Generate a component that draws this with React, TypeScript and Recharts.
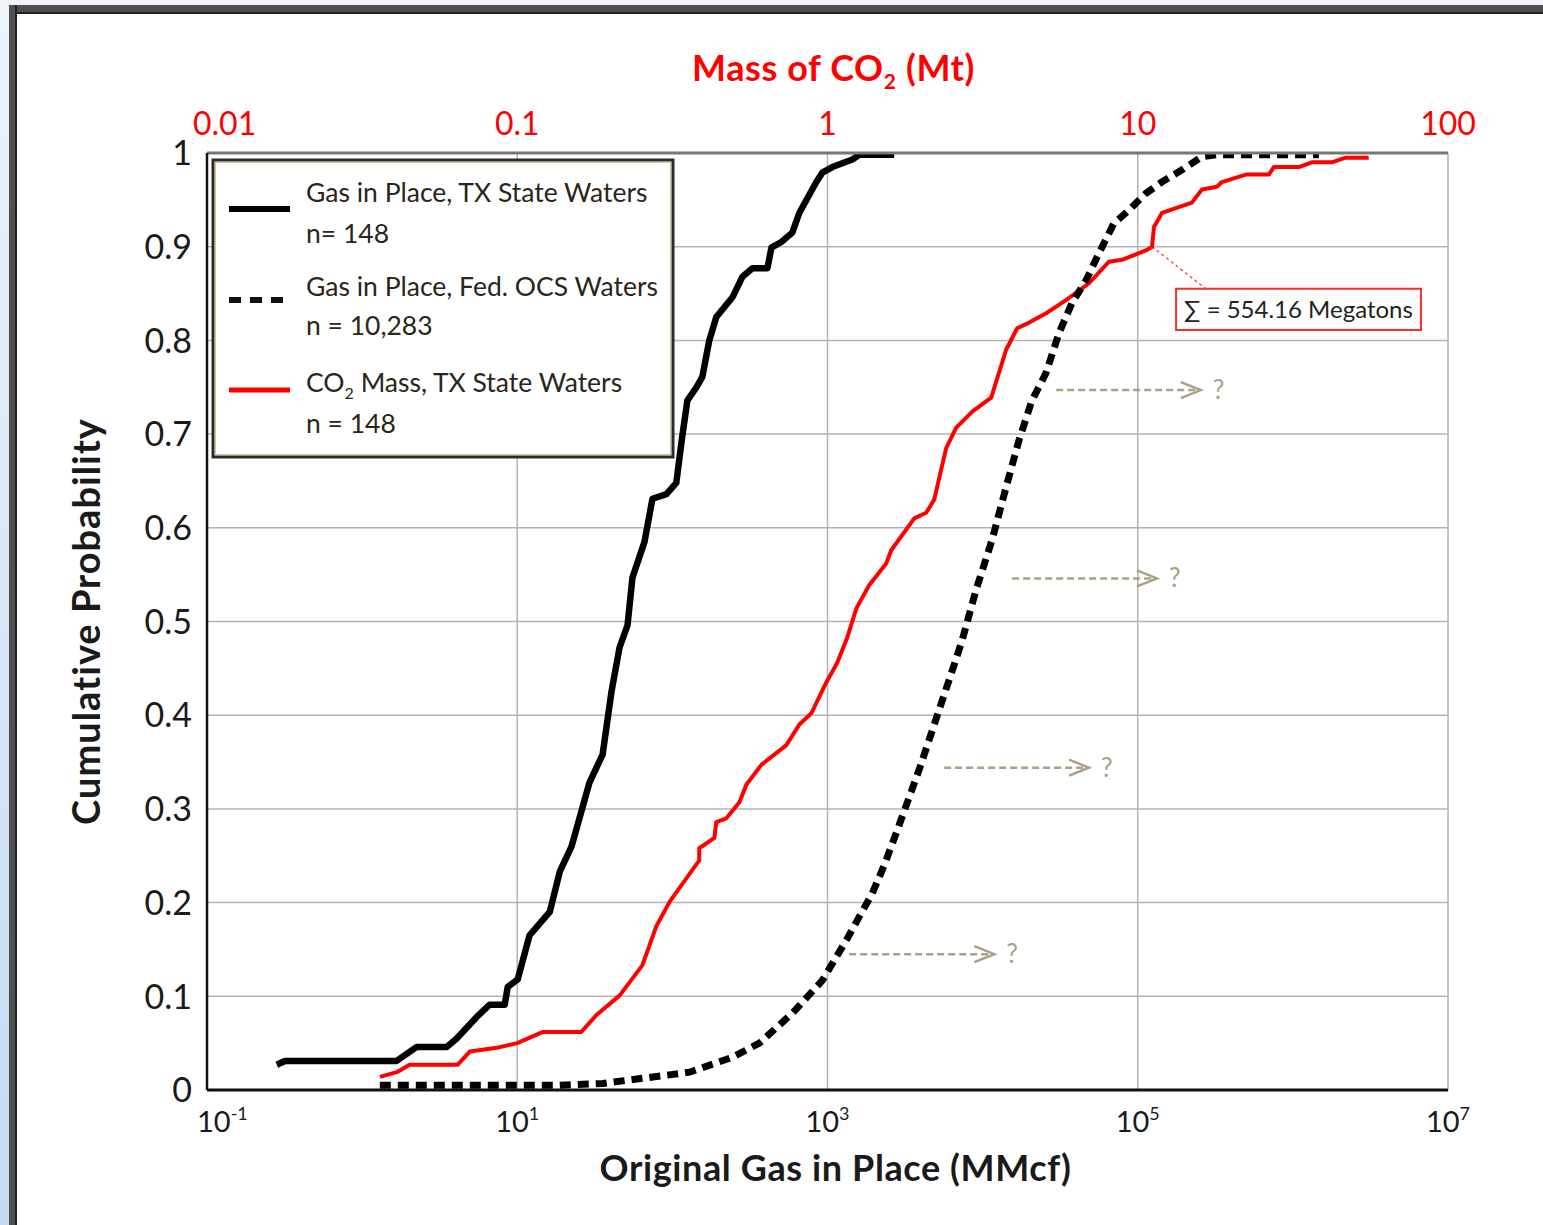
import React from 'react'
import {
  ComposedChart,
  Line,
  XAxis,
  YAxis,
  CartesianGrid,
  Legend,
  ReferenceLine,
  ReferenceArea,
} from 'recharts'

const FONT = 'Lato, "Open Sans", sans-serif'
const ANNO = '#aaa284'

// Gas in place, TX state waters (MMcf) vs cumulative probability
const txGas = [0.282, 0.318, 1.67, 2.25, 3.51, 4.07, 5.48, 6.64, 8.3, 8.68, 10.07, 12.0, 16.2, 18.8, 22.4, 29.2, 35.5, 40.5, 45.6, 51.4, 55.3, 66.1, 74.4, 91.6, 106, 115, 125, 143, 156, 173, 192, 244, 283, 328, 410, 435, 504, 593, 658, 847, 926, 1075, 1445, 1603, 2692]
const txProb = [0.027, 0.031, 0.031, 0.046, 0.046, 0.055, 0.078, 0.091, 0.091, 0.11, 0.118, 0.165, 0.19, 0.233, 0.26, 0.328, 0.358, 0.425, 0.472, 0.496, 0.547, 0.585, 0.631, 0.636, 0.648, 0.694, 0.736, 0.75, 0.761, 0.8, 0.825, 0.846, 0.868, 0.877, 0.877, 0.899, 0.905, 0.915, 0.936, 0.969, 0.979, 0.985, 0.993, 0.998, 0.998]

// Gas in place, Fed. OCS waters (MMcf)
const ocsGas = [1.3, 18.8, 35.5, 68.1, 129, 244, 364, 594, 927, 1324, 1604, 1945, 2323, 2900, 3900, 5250, 6560, 7380, 9080, 11500, 14200, 17200, 20800, 25600, 31100, 37700, 46400, 56200, 70200, 87700, 113000, 143000, 193000, 259000, 319000, 1470000]
const ocsProb = [0.005, 0.005, 0.007, 0.013, 0.019, 0.035, 0.05, 0.082, 0.117, 0.16, 0.185, 0.21, 0.24, 0.283, 0.342, 0.406, 0.454, 0.48, 0.534, 0.587, 0.644, 0.694, 0.736, 0.765, 0.808, 0.84, 0.864, 0.893, 0.925, 0.939, 0.957, 0.969, 0.982, 0.996, 0.998, 0.998]

// CO2 mass, TX state waters (Mt) - plotted on the top axis
const co2Mass = [0.0361, 0.0409, 0.045, 0.0643, 0.0703, 0.0859, 0.1, 0.121, 0.161, 0.18, 0.214, 0.253, 0.281, 0.31, 0.386, 0.386, 0.432, 0.438, 0.472, 0.52, 0.548, 0.612, 0.737, 0.811, 0.887, 0.991, 1.075, 1.158, 1.239, 1.364, 1.546, 1.605, 1.904, 2.08, 2.207, 2.413, 2.6, 2.927, 3.37, 3.765, 4.087, 4.468, 5.066, 5.873, 6.966, 8.078, 8.895, 10.63, 11.12, 11.28, 11.97, 14.95, 16.1, 17.99, 18.67, 22.3, 26.46, 27.45, 33.04, 36.39, 42.2, 46.8, 55.5]
const co2Prob = [0.014, 0.019, 0.027, 0.027, 0.041, 0.045, 0.05, 0.062, 0.062, 0.08, 0.101, 0.133, 0.175, 0.201, 0.245, 0.258, 0.269, 0.286, 0.29, 0.307, 0.326, 0.347, 0.368, 0.39, 0.402, 0.435, 0.456, 0.483, 0.514, 0.539, 0.562, 0.576, 0.61, 0.616, 0.63, 0.685, 0.707, 0.724, 0.739, 0.79, 0.813, 0.819, 0.829, 0.843, 0.861, 0.884, 0.886, 0.896, 0.9, 0.921, 0.936, 0.947, 0.961, 0.964, 0.969, 0.977, 0.977, 0.985, 0.985, 0.99, 0.99, 0.995, 0.995]

// axes
const gasTicks = [0.1, 10, 1000, 100000, 10000000]
const gasTickExp = ['-1', '1', '3', '5', '7']
const massTicks = [0.01, 0.1, 1, 10, 100]
const massTickLabels = ['0.01', '0.1', '1', '10', '100']
const probTicks = [0, 0.1, 0.2, 0.3, 0.4, 0.5, 0.6, 0.7, 0.8, 0.9, 1]
const probTickLabels = ['0', '0.1', '0.2', '0.3', '0.4', '0.5', '0.6', '0.7', '0.8', '0.9', '1']

// legend
const seriesNames = ['Gas in Place, TX State Waters', 'Gas in Place, Fed. OCS Waters', 'Mass, TX State Waters']
const seriesCounts = ['n= 148', 'n = 10,283', 'n = 148']

// "?" arrows to the right of the OCS curve
const arrowProb = [0.747, 0.546, 0.344, 0.145]
const arrowFrom = [29800, 15500, 5650, 1380]
const arrowTo = [255000, 133000, 48500, 11900]

// sum box
const sumLabel = '∑ = 554.16 Megatons'
const sumPoint = { mass: 11.12, p: 0.9 }
const sumBox = { x1: 13.29, x2: 81.8, y1: 0.811, y2: 0.855, anchorMass: 16.6 }

const txData = txGas.map((gas, i) => ({ gas, p: txProb[i] }))
const ocsData = ocsGas.map((gas, i) => ({ gas, p: ocsProb[i] }))
const co2Data = co2Mass.map((mass, i) => ({ mass, p: co2Prob[i] }))

function GasTick(props: any) {
  const { x, y, payload } = props
  const i = gasTicks.indexOf(payload.value)
  const first = i === 0
  return (
    <text
      x={first ? x - 10 : x}
      y={y + 42}
      textAnchor={first ? 'start' : 'middle'}
      fontSize={29}
      fill="#1a1a1a"
      fontFamily={FONT}
    >
      10
      <tspan fontSize={18} dy={-12}>{gasTickExp[i]}</tspan>
    </text>
  )
}

function MassTick(props: any) {
  const { x, y, payload } = props
  const i = massTicks.indexOf(payload.value)
  const first = i === 0
  return (
    <text
      x={first ? x - 14 : x}
      y={y - 18}
      textAnchor={first ? 'start' : 'middle'}
      fontSize={32}
      fill="#ff0000"
      fontFamily={FONT}
    >
      {massTickLabels[i]}
    </text>
  )
}

function ProbTick(props: any) {
  const { x, y, payload } = props
  const i = probTicks.indexOf(payload.value)
  return (
    <text x={x - 15} y={y} dy="0.36em" textAnchor="end" fontSize={34} fill="#1a1a1a" fontFamily={FONT}>
      {probTickLabels[i]}
    </text>
  )
}

function BottomTitle(props: any) {
  const vb = props.viewBox || {}
  return (
    <text
      x={vb.x + vb.width / 2 + 8}
      y={vb.y + 91}
      textAnchor="middle"
      fontSize={36}
      letterSpacing={0.6}
      fontWeight="bold"
      fill="#1a1a1a"
      fontFamily={FONT}
    >
      Original Gas in Place (MMcf)
    </text>
  )
}

function TopTitle(props: any) {
  const vb = props.viewBox || {}
  return (
    <text
      x={vb.x + vb.width / 2 + 6}
      y={vb.y + vb.height - 72}
      textAnchor="middle"
      fontSize={36}
      letterSpacing={0.6}
      fontWeight="bold"
      fill="#ff0000"
      fontFamily={FONT}
    >
      Mass of CO
      <tspan fontSize={21} dy={8}>2</tspan>
      <tspan dy={-8}> (Mt)</tspan>
    </text>
  )
}

function LeftTitle(props: any) {
  const vb = props.viewBox || {}
  const cx = vb.x - 40
  const cy = vb.y + vb.height / 2
  return (
    <text
      x={cx}
      y={cy}
      dy="0.35em"
      transform={`rotate(-90 ${cx} ${cy})`}
      textAnchor="middle"
      fontSize={38}
      letterSpacing={1}
      fontWeight="bold"
      fill="#1a1a1a"
      fontFamily={FONT}
    >
      Cumulative Probability
    </text>
  )
}

function ArrowTip(props: any) {
  const vb = props.viewBox || {}
  const tipX = vb.x + vb.width
  const y = vb.y
  return (
    <g>
      <polyline points={`${tipX - 20},${y - 8} ${tipX},${y} ${tipX - 20},${y + 8}`} fill="none" stroke={ANNO} strokeWidth={2.5} />
      <text x={tipX + 12} y={y} dy="0.35em" fontSize={26} fill={ANNO} fontFamily={FONT}>
        ?
      </text>
    </g>
  )
}

function LegendBox() {
  const rowY = [51, 142, 232]
  const nameY = [44, 138, 234]
  const countY = [85, 177, 275]
  const txt = '#2a2618'
  return (
    <svg width={464} height={301} style={{ display: 'block' }}>
      <rect x={2} y={2} width={460} height={297} fill="#fff" stroke="#2d2a20" strokeWidth={3} />
      <rect x={4.5} y={4.5} width={455} height={292} fill="none" stroke="#cfc4a3" strokeWidth={1} />
      <line x1={18} x2={79} y1={rowY[0]} y2={rowY[0]} stroke="#000" strokeWidth={6} />
      <line x1={18} x2={79} y1={rowY[1]} y2={rowY[1]} stroke="#111" strokeWidth={6} strokeDasharray="12 9" />
      <line x1={18} x2={79} y1={rowY[2]} y2={rowY[2]} stroke="#ff0000" strokeWidth={5} />
      {[0, 1, 2].map((i) => (
        <g key={i} fontFamily={FONT} fontSize={26.5} fill={txt}>
          <text x={95} y={nameY[i]}>
            {i === 2 ? (
              <>
                CO<tspan fontSize={16} dy={7}>2</tspan>
                <tspan dy={-7}> {seriesNames[i]}</tspan>
              </>
            ) : (
              seriesNames[i]
            )}
          </text>
          <text x={95} y={countY[i]}>
            {seriesCounts[i]}
          </text>
        </g>
      ))}
    </svg>
  )
}

export default function App() {
  return (
    <div
      style={{
        position: 'absolute',
        left: 0,
        top: 0,
        width: 1543,
        height: 1225,
        background: '#fff',
        overflow: 'hidden',
        fontFamily: FONT,
      }}
    >
      <div style={{ position: 'absolute', left: 0, top: 0, width: 1543, height: 5, background: '#eef3f9' }} />
      <div style={{ position: 'absolute', left: 0, top: 0, width: 9, height: 1225, background: 'linear-gradient(#eef3f9, #c3daf4)' }} />
      <div style={{ position: 'absolute', left: 9, top: 5, width: 1534, height: 9, background: '#4f4f4f', boxSizing: 'border-box', borderBottom: '2px solid #222' }} />
      <div style={{ position: 'absolute', left: 9, top: 5, width: 8, height: 1220, background: '#4f4f4f', boxSizing: 'border-box', borderRight: '2px solid #222' }} />
      <div style={{ position: 'absolute', left: 0, top: 0 }}>
        <ComposedChart width={1543} height={1225} margin={{ top: 20, right: 95, bottom: 35, left: 127 }}>
          <CartesianGrid xAxisId="bottom" stroke="#b3b3b3" strokeWidth={1.5} />
          <XAxis
            xAxisId="bottom"
            dataKey="gas"
            type="number"
            scale="log"
            domain={[0.1, 10000000]}
            ticks={gasTicks}
            interval={0}
            allowDataOverflow
            tickLine={false}
            tickSize={0}
            tickMargin={0}
            tick={<GasTick />}
            axisLine={{ stroke: '#111', strokeWidth: 3 }}
            height={100}
            label={<BottomTitle />}
          />
          <XAxis
            xAxisId="top"
            orientation="top"
            dataKey="mass"
            type="number"
            scale="log"
            domain={[0.01, 100]}
            ticks={massTicks}
            interval={0}
            allowDataOverflow
            tickLine={false}
            tickSize={0}
            tickMargin={0}
            tick={<MassTick />}
            axisLine={{ stroke: '#777', strokeWidth: 3 }}
            height={133}
            label={<TopTitle />}
          />
          <YAxis
            type="number"
            domain={[0, 1]}
            ticks={probTicks}
            interval={0}
            allowDataOverflow
            tickLine={false}
            tickSize={0}
            tickMargin={0}
            tick={<ProbTick />}
            axisLine={{ stroke: '#111', strokeWidth: 2.5 }}
            width={80}
            label={<LeftTitle />}
          />
          <YAxis
            yAxisId="right"
            orientation="right"
            type="number"
            domain={[0, 1]}
            tick={false}
            tickLine={false}
            axisLine={{ stroke: '#777', strokeWidth: 3 }}
            width={0}
          />

          {arrowProb.map((p, i) => (
            <ReferenceLine
              key={`arrow-${i}`}
              xAxisId="bottom"
              segment={[
                { x: arrowFrom[i], y: p },
                { x: arrowTo[i], y: p },
              ]}
              stroke={ANNO}
              strokeWidth={2.5}
              strokeDasharray="7 4"
              label={<ArrowTip />}
            />
          ))}

          <ReferenceLine
            xAxisId="top"
            segment={[
              { x: sumPoint.mass, y: sumPoint.p },
              { x: sumBox.anchorMass, y: sumBox.y2 },
            ]}
            stroke="#ff5050"
            strokeWidth={1.5}
            strokeDasharray="3 3"
          />
          <ReferenceArea
            xAxisId="top"
            x1={sumBox.x1}
            x2={sumBox.x2}
            y1={sumBox.y1}
            y2={sumBox.y2}
            fill="#fff"
            fillOpacity={1}
            stroke="#ff2a2a"
            strokeWidth={2}
            label={{ value: sumLabel, position: 'center', fill: '#222', fontSize: 24, fontFamily: FONT }}
          />

          <Line
            xAxisId="top"
            data={co2Data}
            dataKey="p"
            name="CO2 Mass, TX State Waters"
            stroke="#ff0000"
            strokeWidth={4}
            dot={false}
            activeDot={false}
            strokeLinejoin="round"
            isAnimationActive={false}
          />
          <Line
            xAxisId="bottom"
            data={ocsData}
            dataKey="p"
            name="Gas in Place, Fed. OCS Waters"
            stroke="#000"
            strokeWidth={7}
            strokeDasharray="11 7"
            dot={false}
            activeDot={false}
            isAnimationActive={false}
          />
          <Line
            xAxisId="bottom"
            data={txData}
            dataKey="p"
            name="Gas in Place, TX State Waters"
            stroke="#000"
            strokeWidth={6.5}
            dot={false}
            activeDot={false}
            strokeLinejoin="round"
            isAnimationActive={false}
          />

          <Legend
            layout="vertical"
            align="center"
            verticalAlign="middle"
            wrapperStyle={{ left: 211, top: 158, width: 464, height: 301 }}
            content={<LegendBox />}
          />
        </ComposedChart>
      </div>
    </div>
  )
}
